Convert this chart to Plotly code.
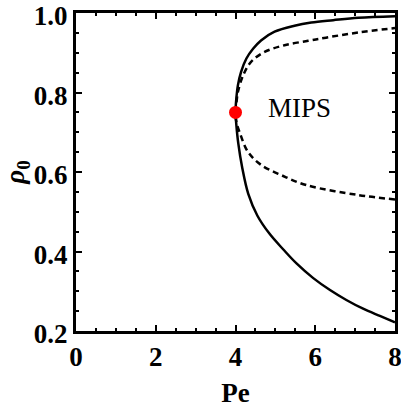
import plotly.graph_objects as go

# binodal (solid)
bin_up_pe = [4.0, 4.02, 4.06, 4.14, 4.27, 4.44, 4.64, 4.98, 5.48, 5.90, 6.45, 7.08, 8.0]
bin_up_rho = [0.75, 0.784, 0.818, 0.852, 0.885, 0.910, 0.931, 0.953, 0.968, 0.976, 0.982, 0.988, 0.992]
bin_lo_pe = [4.0, 4.02, 4.07, 4.17, 4.32, 4.55, 4.85, 5.20, 5.53, 5.95, 6.37, 6.78, 7.20, 7.62, 8.0]
bin_lo_rho = [0.75, 0.720, 0.672, 0.610, 0.545, 0.490, 0.445, 0.405, 0.370, 0.333, 0.303, 0.278, 0.256, 0.238, 0.222]

# spinodal (dashed)
spi_up_pe = [4.0, 4.03, 4.06, 4.19, 4.39, 4.73, 5.23, 5.82, 6.27, 7.08, 8.0]
spi_up_rho = [0.75, 0.780, 0.801, 0.843, 0.877, 0.902, 0.919, 0.930, 0.938, 0.951, 0.962]
spi_lo_pe = [4.0, 4.03, 4.10, 4.31, 4.64, 5.15, 5.78, 7.08, 8.0]
spi_lo_rho = [0.75, 0.722, 0.701, 0.651, 0.618, 0.592, 0.567, 0.542, 0.531]

crit_pe = [4.0]
crit_rho = [0.75]

x_ticks = [0, 2, 4, 6, 8]
y_ticks = [0.2, 0.4, 0.6, 0.8, 1.0]

serif = "Liberation Serif"

fig = go.Figure()

fig.add_trace(go.Scatter(x=bin_lo_pe[::-1] + bin_up_pe[1:], y=bin_lo_rho[::-1] + bin_up_rho[1:],
                         mode="lines", line=dict(color="black", width=2.5, shape="spline", smoothing=1),
                         showlegend=False))
fig.add_trace(go.Scatter(x=spi_lo_pe[::-1] + spi_up_pe[1:], y=spi_lo_rho[::-1] + spi_up_rho[1:],
                         mode="lines", line=dict(color="black", width=2.5, dash="6px,4px",
                                                 shape="spline", smoothing=1),
                         showlegend=False))
fig.add_trace(go.Scatter(x=crit_pe, y=crit_rho, mode="markers",
                         marker=dict(color="#ff0000", size=13), showlegend=False))

fig.add_annotation(x=5.61, y=0.761, text="MIPS", showarrow=False,
                   font=dict(family=serif, size=27, color="black"))

axis_common = dict(showline=True, linewidth=3, linecolor="black", mirror="allticks",
                   ticks="inside", ticklen=6, tickwidth=2, tickcolor="black",
                   showgrid=False, zeroline=False, ticklabeloverflow="allow", automargin=False,
                   tickfont=dict(family=serif, size=27, color="black", weight="bold"))

fig.update_xaxes(range=[0, 8], tickvals=x_ticks,
                 minor=dict(dtick=0.5, ticks="inside", ticklen=3, tickwidth=2, tickcolor="black"),
                 title=dict(text="<b>Pe</b>", font=dict(family=serif, size=27, color="black"), standoff=12),
                 **axis_common)
fig.update_yaxes(range=[0.2, 1.0], tickvals=y_ticks, tickformat=".1f", ticklabelshift=3,
                 minor=dict(dtick=0.05, ticks="inside", ticklen=3, tickwidth=2, tickcolor="black"),
                 title=dict(text="<b><i>ρ</i><sub>0</sub></b>", font=dict(family=serif, size=27, color="black"), standoff=6),
                 **axis_common)

fig.update_layout(width=401, height=410, margin=dict(l=76, r=6, t=13, b=79),
                  plot_bgcolor="white", paper_bgcolor="white")

fig.write_html("out.html", config={"displayModeBar": False},
               post_script="document.body.style.margin='0';")
